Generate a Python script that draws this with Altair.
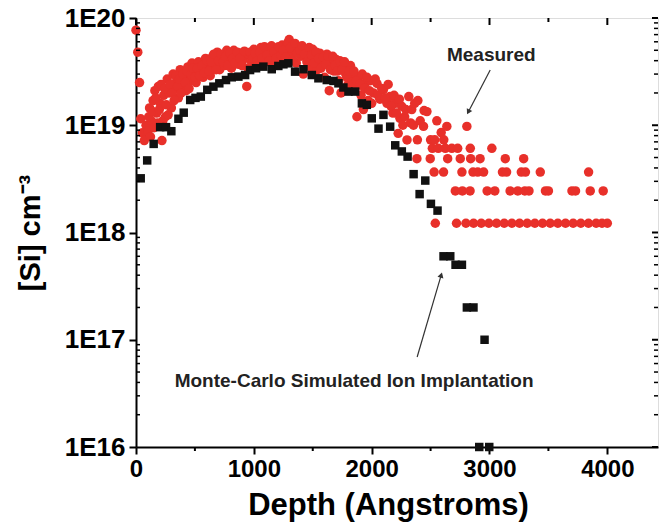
import math
import altair as alt
import pandas as pd

# ---------------- data ----------------
red_depth = [0, 15, 30, 40, 55, 70, 85, 100, 115, 130, 145, 160, 175, 190, 205, 220, 235, 250, 265, 280,
             300, 315, 330, 345, 360, 375, 390, 410, 425, 440, 460, 475, 490, 510, 530, 550, 570, 590, 610, 630,
             650, 670, 690, 710, 730, 750, 770, 790, 810, 830, 850, 870, 890, 910, 940, 960, 980, 1000, 1020, 1040,
             1060, 1080, 1100, 1120, 1140, 1160, 1180, 1200, 1220, 1240, 1260, 1280, 1300, 1320, 1340, 1360, 1380, 1400, 1420, 1440,
             1460, 1480, 1500, 1520, 1540, 1560, 1580, 1600, 1620, 1640, 1660, 1680, 1700, 1720, 1740, 1760, 1780, 1800, 1820, 1840,
             1860, 1875, 1890, 1910, 1930, 1950, 1970, 1990, 2015, 2045, 2070, 2100, 2130, 2155, 2180, 2200, 2225, 2240, 2255, 2280,
             2300, 2315, 2330, 2355, 2384, 2388, 2392, 2412, 2440, 2445, 2469, 2497, 2500, 2515, 2530, 2535, 2540, 2553, 2565, 2590,
             2610, 2612, 2625, 2638, 2645, 2680, 2710, 2720, 2730, 2752, 2766, 2770, 2800, 2808, 2835, 2837, 2840, 2860, 2865, 2900,
             2920, 2930, 2950, 2980, 2995, 3020, 3045, 3060, 3110, 3125, 3134, 3145, 3175, 3190, 3240, 3255, 3270, 3290, 3300, 3305,
             3320, 3335, 3385, 3431, 3450, 3475, 3500, 3515, 3580, 3645, 3700, 3710, 3730, 3775, 3840, 3841, 3855, 3905, 3955, 3965,
             4000]
red_conc = [7.7e19, 4.8e19, 2.5e19, 1.15e19, 8.5e18, 7.2e18, 1.0e19, 8.8e18, 1.45e19, 1.1e19, 1.7e19, 2.1e19, 1.3e19, 2.3e19, 1.6e19, 7.2e18, 1.9e19, 1.2e19, 2.7e19, 2.0e19,
            1.45e19, 3.0e19, 2.2e19, 2.6e19, 1.8e19, 3.3e19, 2.4e19, 2.9e19, 2.1e19, 3.5e19, 2.6e19, 3.8e19, 3.0e19, 2.5e19, 3.9e19, 3.2e19, 2.8e19, 4.2e19, 3.5e19, 2.9e19,
            4.4e19, 3.7e19, 4.8e19, 3.3e19, 4.2e19, 3.6e19, 5.0e19, 4.0e19, 3.4e19, 5.0e19, 4.3e19, 3.7e19, 4.7e19, 4.1e19, 2.3e19, 4.5e19, 3.9e19, 5.1e19, 4.3e19, 3.7e19,
            5.3e19, 4.6e19, 3.9e19, 5.0e19, 4.4e19, 3.6e19, 5.2e19, 4.6e19, 4.0e19, 5.6e19, 4.8e19, 5.6e19, 6.3e19, 4.5e19, 5.1e19, 3.8e19, 5.4e19, 4.4e19, 3.0e19, 5.0e19,
            4.2e19, 3.5e19, 5.1e19, 4.0e19, 3.3e19, 4.7e19, 3.8e19, 2.8e19, 4.6e19, 2.1e19, 3.9e19, 3.2e19, 4.1e19, 2.6e19, 2.0e19, 3.6e19, 3.0e19, 2.4e19, 3.6e19, 2.9e19,
            2.2e19, 1.2e19, 2.8e19, 1.9e19, 1.4e19, 2.5e19, 1.7e19, 2.6e19, 2.0e19, 2.45e19, 1.75e19, 2.15e19, 1.6e19, 1.85e19, 1.3e19, 1.6e19, 8.4e18, 1.16e19, 1.5e19, 1.2e19,
            7.3e18, 1.85e19, 1.05e19, 1.0e19, 4.88e18, 7.32e18, 1.7e19, 1.1e19, 9.76e18, 1.37e19, 1.34e19, 4.88e18, 7.32e18, 6.1e18, 3.66e18, 7.32e18, 1.22e18, 1.1e19, 6.1e18, 8.54e18,
            3.66e18, 7.32e18, 6.1e18, 9.76e18, 4.88e18, 6.1e18, 2.44e18, 1.22e18, 6.1e18, 4.88e18, 3.66e18, 2.44e18, 1.22e18, 9.76e18, 2.44e18, 6.1e18, 4.88e18, 3.66e18, 1.22e18, 3.66e18,
            4.88e18, 1.22e18, 3.66e18, 2.44e18, 1.22e18, 6.1e18, 2.44e18, 1.22e18, 3.66e18, 1.22e18, 4.88e18, 3.66e18, 2.44e18, 1.22e18, 2.44e18, 1.22e18, 3.66e18, 4.88e18, 2.44e18, 3.66e18,
            1.22e18, 2.44e18, 1.22e18, 3.66e18, 1.22e18, 2.44e18, 2.44e18, 1.22e18, 1.22e18, 1.22e18, 2.44e18, 1.22e18, 2.44e18, 1.22e18, 1.22e18, 3.66e18, 2.44e18, 1.22e18, 1.22e18, 2.44e18,
            1.22e18]

# second pass of the measured cloud (the dense body of the profile)
red_depth_b = [108, 123, 138, 153, 168, 183, 198, 213, 228, 243, 258, 273, 288, 308, 323, 338, 353, 368, 383, 400,
               418, 433, 450, 468, 483, 500, 520, 540, 560, 580, 600, 620, 640, 660, 680, 700, 720, 740, 760, 780,
               800, 820, 840, 860, 880, 900, 920, 950, 970, 990, 1010, 1030, 1050, 1070, 1090, 1110, 1130, 1150, 1170, 1190,
               1210, 1230, 1250, 1270, 1290, 1310, 1330, 1350, 1370, 1390, 1410, 1430, 1450, 1470, 1490, 1510, 1530, 1550, 1570, 1590,
               1610, 1630, 1650, 1670, 1690, 1710, 1730, 1750, 1770, 1790, 1810, 1830, 1850, 1870, 1900, 1920, 1940, 1960, 1980, 2000,
               2030, 2055, 2085, 2115, 2140, 2165, 2190, 2210, 2235, 2265, 2290, 2340, 2365]
red_conc_b = [1.2e19, 7.8e18, 1.35e19, 9.5e18, 1.8e19, 1.05e19, 1.4e19, 2.4e19, 1.1e19, 2.2e19, 1.55e19, 1.25e19, 2.4e19, 2.0e19, 1.7e19, 2.9e19, 2.3e19, 2.7e19, 2.0e19, 3.0e19,
              2.5e19, 3.2e19, 2.2e19, 3.0e19, 3.4e19, 2.8e19, 3.4e19, 2.9e19, 3.6e19, 3.1e19, 4.0e19, 3.2e19, 3.9e19, 4.6e19, 3.3e19, 4.0e19, 4.6e19, 3.9e19, 4.4e19, 3.6e19,
              4.7e19, 4.2e19, 3.8e19, 4.8e19, 4.2e19, 3.6e19, 4.9e19, 3.4e19, 4.8e19, 4.2e19, 4.7e19, 4.0e19, 4.8e19, 4.2e19, 5.4e19, 4.5e19, 4.0e19, 5.5e19, 4.8e19, 4.2e19,
              5.4e19, 4.5e19, 5.0e19, 4.3e19, 5.9e19, 5.3e19, 4.1e19, 5.8e19, 4.7e19, 5.0e19, 5.5e19, 4.6e19, 3.9e19, 5.3e19, 4.5e19, 3.8e19, 4.8e19, 4.2e19, 3.4e19, 4.3e19,
              3.7e19, 4.4e19, 3.3e19, 4.4e19, 3.6e19, 3.2e19, 4.0e19, 3.3e19, 3.9e19, 2.8e19, 3.2e19, 2.5e19, 3.2e19, 2.6e19, 2.4e19, 3.0e19, 2.2e19, 2.8e19, 2.1e19, 1.6e19,
              2.7e19, 1.9e19, 2.2e19, 1.8e19, 2.4e19, 1.5e19, 1.9e19, 1.3e19, 1.75e19, 1.0e19, 1.4e19, 1.4e19, 1.6e19]

blk_depth = [40, 95, 150, 205, 255, 300, 360, 405, 460, 505, 550, 605, 657, 707, 764, 813, 869, 926, 968, 1019,
             1081, 1152, 1208, 1251, 1293, 1350, 1421, 1492, 1548, 1619, 1676, 1718, 1760, 1803, 1860, 1917, 1959, 2001, 2058, 2100,
             2157, 2200, 2256, 2305, 2356, 2407, 2455, 2503, 2559, 2610, 2667, 2712, 2766, 2808, 2864, 2913, 2958, 2998]
blk_conc = [3.2e18, 4.7e18, 6.7e18, 9.6e18, 9.6e18, 8.8e18, 1.15e19, 1.31e19, 1.72e19, 1.8e19, 1.85e19, 2.14e19, 2.29e19, 2.46e19, 2.64e19, 2.8e19, 2.84e19, 2.94e19, 3.27e19, 3.4e19,
            3.52e19, 3.33e19, 3.57e19, 3.7e19, 3.78e19, 3.16e19, 3.33e19, 2.94e19, 2.74e19, 2.64e19, 2.59e19, 2.46e19, 2.25e19, 2.06e19, 2.06e19, 1.6e19, 1.55e19, 1.16e19, 9.3e18, 1.25e19,
            9.7e18, 6.5e18, 5.7e18, 5.1e18, 3.5e18, 2.28e18, 3.05e18, 1.85e18, 1.6e18, 6.0e17, 6.0e17, 5.0e17, 5.0e17, 2.0e17, 2.0e17, 1.0e16, 1.0e17, 1.0e16]

x_major = [0, 1000, 2000, 3000, 4000]
x_minor = [500, 1500, 2500, 3500]
y_major = [1e16, 1e17, 1e18, 1e19, 1e20]
y_mantissa = [2, 3, 4, 5, 6, 7, 8, 9]
y_decades = [1e16, 1e17, 1e18, 1e19]

ann_text = ["Measured", "Monte-Carlo Simulated Ion Implantation"]
ann_depth = [3015, 1851]
ann_conc = [4.5e19, 4.1e16]
arr_from_depth = [3006, 2386]
arr_from_conc = [3.27e19, 6.9e16]
arr_to_depth = [2820, 2590]
arr_to_conc = [1.33e19, 4.0e17]

# ---------------- layout ----------------
W, H = 522, 429
XMAX = 4430
FONT = "Liberation Sans"

y_minor = [m * d for d in y_decades for m in y_mantissa]

xs = alt.Scale(domain=[0, XMAX], nice=False, zero=False)
ys = alt.Scale(type="log", domain=[1e16, 1e20], nice=False)

red_df = pd.DataFrame({"depth": red_depth + red_depth_b, "conc": red_conc + red_conc_b})
blk_df = pd.DataFrame({"depth": blk_depth, "conc": blk_conc})

x_axis = alt.Axis(values=x_major, format="d", grid=False, tickSize=7, tickWidth=2,
                  domainWidth=2, domainColor="black", tickColor="black",
                  labelFont=FONT, labelFontSize=24, labelFontWeight="bold", labelColor="black",
                  labelPadding=3, labelFlush=False, labelOverlap=False,
                  title="Depth (Angstroms)", titleFont=FONT, titleFontSize=31, titleFontWeight="bold",
                  titleColor="black", titleX=252, titleY=67, titleAlign="center", titleBaseline="alphabetic")
y_axis = alt.Axis(values=y_major, labelExpr="'1E' + round(log(datum.value) / LN10)", grid=False,
                  tickSize=7, tickWidth=2, domainWidth=2, domainColor="black", tickColor="black",
                  labelFont=FONT, labelFontSize=26, labelFontWeight="bold", labelColor="black",
                  labelPadding=4, labelFlush=False, labelOverlap=False,
                  title="[Si] cm⁻³", titleFont=FONT, titleFontSize=29, titleFontWeight="bold",
                  titleColor="black", titleX=-106, titleY=H / 2, titleAngle=270,
                  titleAlign="center", titleBaseline="middle")

X = alt.X("depth:Q", scale=xs, axis=x_axis)
Y = alt.Y("conc:Q", scale=ys, axis=y_axis)
Xd = alt.X("depth:Q", scale=xs)
Yd = alt.Y("conc:Q", scale=ys)

red = alt.Chart(red_df).mark_point(shape="circle", filled=True, size=90, opacity=1,
                                   color="#e8302a").encode(x=X, y=Y)
blk = alt.Chart(blk_df).mark_point(shape="square", filled=True, size=72, opacity=1,
                                   color="#111111").encode(x=Xd, y=Yd)

# tick decorations
xmin_df = pd.DataFrame({"depth": x_minor})
xmaj_df = pd.DataFrame({"depth": x_major})
ymin_df = pd.DataFrame({"conc": y_minor})
ymaj_df = pd.DataFrame({"conc": y_major})

ticks = [
    alt.Chart(xmin_df).mark_rule(color="black", strokeWidth=2).encode(x=Xd, y=alt.value(H), y2=alt.value(H + 4)),
    alt.Chart(xmaj_df).mark_rule(color="black", strokeWidth=2).encode(x=Xd, y=alt.value(0), y2=alt.value(7)),
    alt.Chart(xmin_df).mark_rule(color="black", strokeWidth=2).encode(x=Xd, y=alt.value(0), y2=alt.value(4)),
    alt.Chart(ymin_df).mark_rule(color="black", strokeWidth=1.5).encode(y=Yd, x=alt.value(0), x2=alt.value(4)),
    alt.Chart(ymaj_df).mark_rule(color="black", strokeWidth=2).encode(y=Yd, x=alt.value(W), x2=alt.value(W - 6)),
    alt.Chart(ymin_df).mark_rule(color="black", strokeWidth=1.5).encode(y=Yd, x=alt.value(W), x2=alt.value(W - 4)),
]

# annotations
def px(d):
    return d * W / XMAX

def py(c):
    return H * (20 - math.log10(c)) / 4

angles = []
for fd, fc, td, tc in zip(arr_from_depth, arr_from_conc, arr_to_depth, arr_to_conc):
    dx = px(td) - px(fd)
    dy = py(tc) - py(fc)
    angles.append(math.degrees(math.atan2(dx, -dy)) % 360)

arr_df = pd.DataFrame({"depth": arr_from_depth, "conc": arr_from_conc,
                       "depth2": arr_to_depth, "conc2": arr_to_conc})
head_df = pd.DataFrame({"depth": arr_to_depth, "conc": arr_to_conc, "ang": angles})
txt_df = pd.DataFrame({"depth": ann_depth, "conc": ann_conc, "label": ann_text})

arrows = alt.Chart(arr_df).mark_rule(color="#333333", strokeWidth=1.2).encode(
    x=Xd, y=Yd, x2="depth2:Q", y2="conc2:Q")
heads = alt.Chart(head_df).mark_point(shape="triangle-up", filled=True, size=38, opacity=1,
                                      color="#333333").encode(
    x=Xd, y=Yd, angle=alt.Angle("ang:Q", scale=None))
texts = alt.Chart(txt_df).mark_text(font=FONT, fontSize=19, fontWeight="bold", color="#222222",
                                    align="center", baseline="middle").encode(
    x=Xd, y=Yd, text="label:N")

chart = alt.layer(red, blk, *ticks, arrows, heads, texts).properties(
    width=W, height=H,
    autosize=alt.AutoSizeParams(type="none"),
    padding={"left": 136, "top": 18, "right": 2, "bottom": 82},
).configure_view(stroke="black", strokeWidth=2).configure(background="white")

chart.save("out.html", embed_options={"renderer": "svg", "actions": False})
